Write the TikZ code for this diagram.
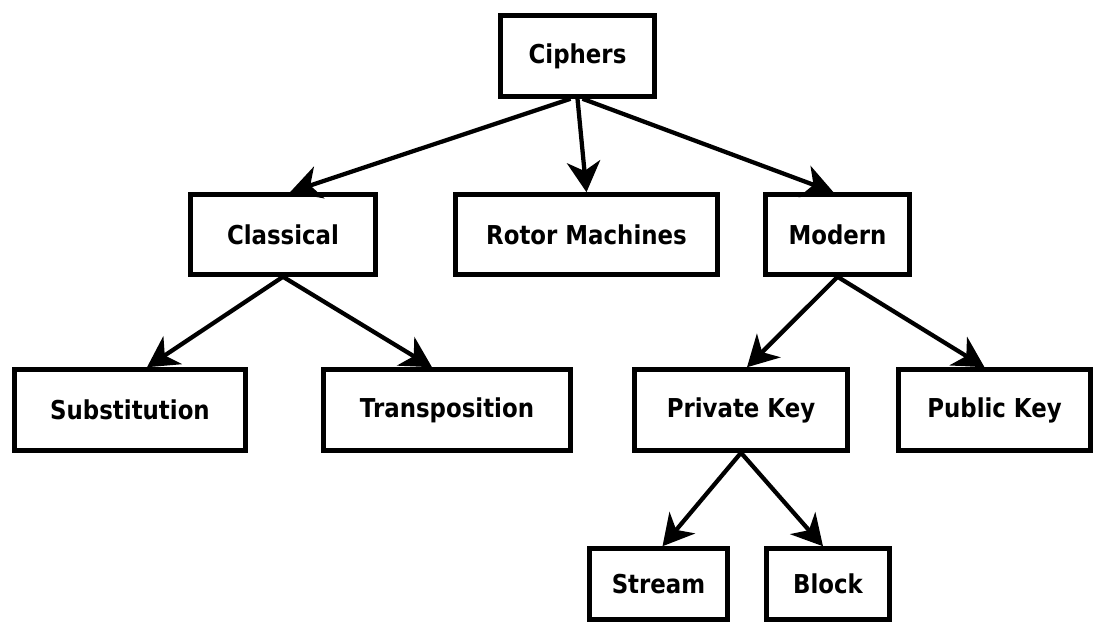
\documentclass[tikz,border=0pt]{standalone}
\usepackage{fontspec}
\setmainfont{DejaVu Sans}[FakeStretch=0.88]
\usetikzlibrary{arrows.meta,calc}
\begin{document}
\begin{tikzpicture}[x=0.75pt,y=-0.75pt,
  box/.style={draw, line width=3.4pt, inner sep=0pt, fill=white,
    font=\bfseries\fontsize{19.5}{22}\selectfont},
  dim/.style 2 args={minimum width=#1*0.75pt, minimum height=#2*0.75pt},
  arr/.style={line width=3.2pt, -{Stealth[length=23pt,width=25pt,inset=7pt]}}]
\useasboundingbox[fill=white] (0,0) rectangle (1099,627);
\node[box, dim={154}{81}] (ciph) at (577.5,56) {Ciphers};
\node[box, dim={185}{80}] (cls) at (283,234.5) {Classical};
\node[box, dim={262}{80}] (rot) at (586.5,234.5) {Rotor Machines};
\node[box, dim={144}{80}] (mod) at (837.5,234.5) {Modern};
\node[box, dim={231}{81}] (sub) at (130,410) {Substitution};
\node[box, dim={247}{81}] (tra) at (447,410) {Transposition};
\node[box, dim={213}{81}] (prv) at (741,410) {Private Key};
\node[box, dim={192}{81}] (pub) at (994.5,410) {Public Key};
\node[box, dim={138}{71}] (str) at (658.5,584) {Stream};
\node[box, dim={123}{71}] (blk) at (828,584) {Block};
\draw[arr] ($(ciph.south)+(-7,0)$) -- ($(cls.north)+(7,0)$);
\draw[arr] (ciph.south) -- (rot.north);
\draw[arr] ($(ciph.south)+(5,0)$) -- ($(mod.north)+(-4,0)$);
\draw[arr] (cls.south) -- ($(sub.north)+(17,0)$);
\draw[arr] (cls.south) -- ($(tra.north)+(-15,0)$);
\draw[arr] (mod.south) -- ($(prv.north)+(6,0)$);
\draw[arr] (mod.south) -- ($(pub.north)+(-10,0)$);
\draw[arr] (prv.south) -- ($(str.north)+(4,0)$);
\draw[arr] (prv.south) -- ($(blk.north)+(-5,0)$);
\end{tikzpicture}
\end{document}
